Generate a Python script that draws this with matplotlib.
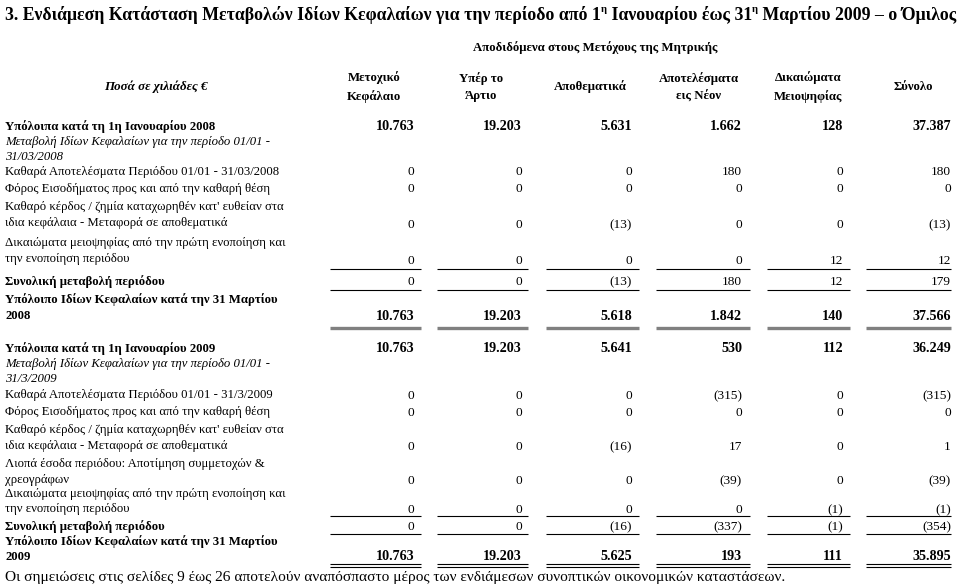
import matplotlib.pyplot as plt

# column headers and row labels
col_headers = ["Μετοχικό\nΚεφάλαιο", "Υπέρ το\nΆρτιο", "Αποθεματικά",
               "Αποτελέσματα\nεις Νέον", "Δικαιώματα\nΜειοψηφίας", "Σύνολο"]

# values in thousands of euro (negative = shown in parentheses)
open_2008 = [10763, 19203, 5631, 1662, 128, 37387]
net_2008 = [0, 0, 0, 180, 0, 180]
tax_2008 = [0, 0, 0, 0, 0, 0]
transfer_2008 = [0, 0, -13, 0, 0, -13]
minority_2008 = [0, 0, 0, 0, 12, 12]
change_2008 = [0, 0, -13, 180, 12, 179]
close_2008 = [10763, 19203, 5618, 1842, 140, 37566]

open_2009 = [10763, 19203, 5641, 530, 112, 36249]
net_2009 = [0, 0, 0, -315, 0, -315]
tax_2009 = [0, 0, 0, 0, 0, 0]
transfer_2009 = [0, 0, -16, 17, 0, 1]
oci_2009 = [0, 0, 0, -39, 0, -39]
minority_2009 = [0, 0, 0, 0, -1, -1]
change_2009 = [0, 0, -16, -337, -1, -354]
close_2009 = [10763, 19203, 5625, 193, 111, 35895]

SERIF = "Liberation Serif"

fig = plt.figure(figsize=(9.6, 5.85), dpi=100)
ax = fig.add_axes([0, 0, 1, 1])
ax.set_xlim(0, 960)
ax.set_ylim(585, 0)
ax.axis("off")

num_right = [414, 522, 632, 742, 843, 951]
line_spans = [(330, 421), (437, 528), (546, 639), (656, 750), (767, 850), (866, 951)]
head_x = [374, 481, 590, 699, 808, 913]


def fmt(v):
    s = f"{abs(v):,}".replace(",", ".")
    return f"({s})" if v < 0 else s


def label(y, txt, bold=False, italic=False, size=9.2):
    ax.text(5, y, txt, fontsize=size, family=SERIF, va="center",
            fontweight="bold" if bold else "normal",
            style="italic" if italic else "normal")


def numbers(y, vals, bold=False):
    for x, v in zip(num_right, vals):
        ax.text(x, y, fmt(v), fontsize=10.2 if bold else 9.6, family=SERIF,
                ha="right", va="center", fontweight="bold" if bold else "normal")


def rule(y, lw=0.8, color="black"):
    for a, b in line_spans:
        ax.plot([a, b], [y, y], color=color, lw=lw, solid_capstyle="butt")


# title, built in pieces for the superscripts; scaled to fit the width
fig.canvas.draw()
r = fig.canvas.get_renderer()
pieces = [("3. Ενδιάμεση Κατάσταση Μεταβολών Ιδίων Κεφαλαίων για την περίοδο από 1", 0),
          ("η", 1), (" Ιανουαρίου έως 31", 0), ("η", 1),
          (" Μαρτίου 2009 – ο Όμιλος", 0)]


def draw_title(size):
    arts = []
    x = 5
    for txt, sup in pieces:
        t = ax.text(x, 10 if sup else 14.5, txt, fontsize=size * 0.6 if sup else size,
                    family=SERIF, fontweight="bold", va="center")
        arts.append(t)
        x += t.get_window_extent(renderer=r).width
    return arts, x


arts, end = draw_title(13.0)
for a in arts:
    a.remove()
draw_title(13.0 * 945 / (end - 5))

ax.text(595, 48, "Αποδιδόμενα στους Μετόχους της Μητρικής", fontsize=9.2,
        family=SERIF, fontweight="bold", ha="center", va="center")
ax.text(156, 87, "Ποσά σε χιλιάδες €", fontsize=9.4, family=SERIF,
        fontweight="bold", style="italic", ha="center", va="center")
for hx, h in zip(head_x, col_headers):
    ax.text(hx, 87, h, fontsize=9.2, family=SERIF, fontweight="bold",
            ha="center", va="center", linespacing=1.6)

# 2008 section
label(127, "Υπόλοιπα κατά τη 1η Ιανουαρίου 2008", bold=True)
numbers(127, open_2008, bold=True)
label(142, "Μεταβολή Ιδίων Κεφαλαίων για την περίοδο 01/01 -", italic=True)
label(157, "31/03/2008", italic=True)
label(172, "Καθαρά Αποτελέσματα Περιόδου 01/01 - 31/03/2008")
numbers(172, net_2008)
label(189, "Φόρος Εισοδήματος προς και από την καθαρή θέση")
numbers(189, tax_2008)
label(207, "Καθαρό κέρδος / ζημία καταχωρηθέν κατ' ευθείαν στα")
label(223, "ιδια κεφάλαια - Μεταφορά σε αποθεματικά")
numbers(225, transfer_2008)
label(243, "Δικαιώματα μειοψηφίας από την πρώτη ενοποίηση και")
label(259, "την ενοποίηση περιόδου")
numbers(261, minority_2008)
rule(268.5)
label(282, "Συνολική μεταβολή περιόδου", bold=True)
numbers(282, change_2008)
rule(290)
label(300, "Υπόλοιπο Ιδίων Κεφαλαίων κατά την 31 Μαρτίου", bold=True)
label(316, "2008", bold=True)
numbers(317, close_2008, bold=True)
rule(327.5, lw=2.4, color="#808080")

# 2009 section
label(349, "Υπόλοιπα κατά τη 1η Ιανουαρίου 2009", bold=True)
numbers(349, open_2009, bold=True)
label(364, "Μεταβολή Ιδίων Κεφαλαίων για την περίοδο 01/01 -", italic=True)
label(379, "31/3/2009", italic=True)
label(395, "Καθαρά Αποτελέσματα Περιόδου 01/01 - 31/3/2009")
numbers(396, net_2009)
label(412, "Φόρος Εισοδήματος προς και από την καθαρή θέση")
numbers(413, tax_2009)
label(430, "Καθαρό κέρδος / ζημία καταχωρηθέν κατ' ευθείαν στα")
label(446, "ιδια κεφάλαια - Μεταφορά σε αποθεματικά")
numbers(447, transfer_2009)
label(464, "Λιοπά έσοδα περιόδου: Αποτίμηση συμμετοχών &")
label(480, "χρεογράφων")
numbers(481, oci_2009)
label(494, "Δικαιώματα μειοψηφίας από την πρώτη ενοποίηση και")
label(509, "την ενοποίηση περιόδου")
numbers(510, minority_2009)
rule(516)
label(527, "Συνολική μεταβολή περιόδου", bold=True)
numbers(527, change_2009)
rule(533.5)
label(542, "Υπόλοιπο Ιδίων Κεφαλαίων κατά την 31 Μαρτίου", bold=True)
label(557, "2009", bold=True)
numbers(557, close_2009, bold=True)
rule(564)
rule(567)

ax.text(5, 577, "Οι σημειώσεις στις σελίδες 9 έως 26 αποτελούν αναπόσπαστο μέρος "
        "των ενδιάμεσων συνοπτικών οικονομικών καταστάσεων.",
        fontsize=11.1, family=SERIF, va="center")

fig.savefig("out.png", dpi=100)
